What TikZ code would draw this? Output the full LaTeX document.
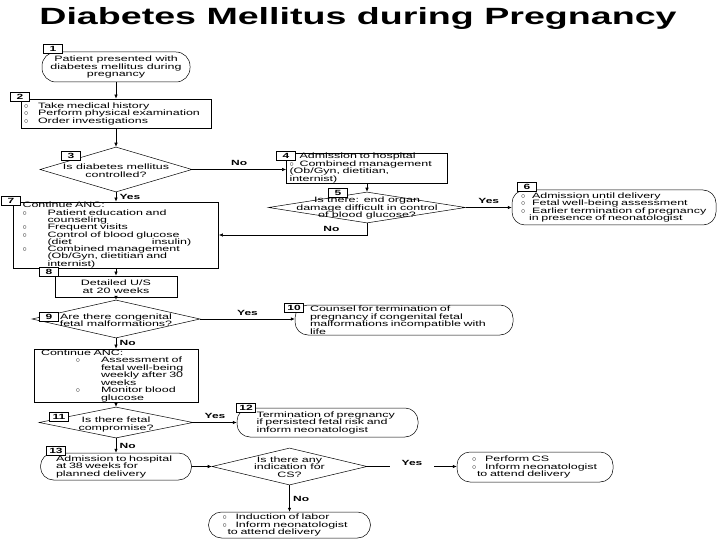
\documentclass[tikz,border=0pt]{standalone}
\usepackage{fontspec}
\setmainfont{Liberation Sans}[FakeStretch=1.6]
\usetikzlibrary{arrows.meta,shapes.geometric}
\newcommand{\bul}[1][12pt]{\makebox[#1][l]{$\circ$}}

\begin{document}
\begin{tikzpicture}[x=1pt, y=-1pt,
  every node/.style={font=\fontsize{7.8}{7.5}\selectfont},
  box/.style={draw, line width=0.8pt, inner xsep=3pt, inner ysep=0pt, align=left},
  term/.style={draw, line width=0.5pt, rounded corners=13pt, inner sep=0pt, align=left},
  decision/.style={diamond, draw, line width=0.5pt, inner sep=0pt},
  num/.style={draw, line width=0.9pt, fill=white, font=\fontsize{7.5}{8}\selectfont\bfseries,
              minimum width=19pt, minimum height=9pt, inner sep=0pt},
  yn/.style={font=\fontsize{7.5}{8}\selectfont\bfseries},
  arrow/.style={-{Latex[length=4pt,width=3.5pt]}, line width=0.6pt}
]
\useasboundingbox (0,0) rectangle (720,540);

\node[font=\fontsize{23.5}{26}\selectfont\bfseries] (title) at (358,18) {Diabetes Mellitus during Pregnancy};

\node[term, align=center, rounded corners=14pt, minimum width=148pt, minimum height=30pt] (present) at (116,67)
  {Patient presented with\\diabetes mellitus during\\pregnancy};
\node[box, text width=184pt, minimum height=29pt] (history) at (116,113.5)
  {\bul[14pt]Take medical history\\\bul[14pt]Perform physical examination\\\bul[14pt]Order investigations};
\node[decision, minimum width=152pt, minimum height=45pt] (controlled) at (116,169.5) {};
\node[align=center] (controlledtxt) at (116,170.5) {Is diabetes mellitus\\controlled?};

\node[box, text width=155pt, minimum height=30pt] (admit) at (367,168)
  {\bul[10pt]Admission to hospital\\\bul[10pt]Combined management\\(Ob/Gyn, dietitian,\\internist)};
\node[decision, minimum width=197pt, minimum height=31pt] (organ) at (367,207.5) {};
\node[align=center] (organtxt) at (367,208) {Is there: end organ\\damage difficult in control\\of blood glucose?};
\node[term, text width=186pt, minimum width=204pt, minimum height=35pt] (untildel) at (614,207.5)
  {\bul[11pt]Admission until delivery\\\bul[11pt]Fetal well-being assessment\\\bul[11pt]Earlier termination of pregnancy\\\hspace*{8pt}in presence of neonatologist};

\node[box, inner xsep=9pt, text width=187pt, minimum height=66pt, font=\fontsize{7.8}{7.3}\selectfont] (anc) at (116,235)
  {Continue ANC:\\
   \bul[25pt]Patient education and\\\hspace*{25pt}counseling\\
   \bul[25pt]Frequent visits\\
   \bul[25pt]Control of blood glucose\\\hspace*{25pt}(diet\hspace{80pt}insulin)\\
   \bul[25pt]Combined management\\\hspace*{25pt}(Ob/Gyn, dietitian and\\\hspace*{25pt}internist)};
\node[box, align=center, minimum width=122pt, minimum height=21pt] (us) at (116,286.5) {Detailed U/S\\at 20 weeks};

\node[decision, minimum width=168pt, minimum height=38pt] (malf) at (116,319) {};
\node[align=center] (malftxt) at (116,320) {Are there congenital\\fetal malformations?};
\node[term, text width=188pt, minimum width=218pt, minimum height=30pt] (counsel) at (404,320)
  {Counsel for termination of\\pregnancy if congenital fetal\\malformations incompatible with\\life};

\node[box, inner xsep=7pt, text width=150pt, minimum height=53pt] (anclate) at (116,375.5)
  {Continue ANC:\\
   \hspace*{35pt}\bul[25pt]Assessment of\\\hspace*{60pt}fetal well-being\\\hspace*{60pt}weekly after 30\\\hspace*{60pt}weeks\\
   \hspace*{35pt}\bul[25pt]Monitor blood\\\hspace*{60pt}glucose};

\node[decision, minimum width=154pt, minimum height=31pt] (comp) at (116,422.5) {};
\node[align=center] (comptxt) at (116,424.5) {Is there fetal\\compromise?};
\node[term, text width=142pt, minimum width=181pt, minimum height=29pt] (termin) at (327.5,422.5)
  {Termination of pregnancy\\if persisted fetal risk and\\inform neonatologist};

\node[term, text width=120pt, minimum width=151pt, minimum height=27pt] (adm38) at (116,466.5)
  {Admission to hospital\\at 38 weeks for\\planned delivery};
\node[decision, minimum width=155pt, minimum height=37pt] (csq) at (289.5,466.5) {};
\node[align=center] (csqtxt) at (289.5,467) {Is there any\\indication for\\CS?};
\node[term, text width=126pt, minimum width=156pt, minimum height=30pt] (cs) at (535,467)
  {\bul[13pt]Perform CS\\\bul[13pt]Inform neonatologist\\\hspace*{5pt}to attend delivery};
\node[term, text width=134pt, minimum width=162pt, minimum height=26pt] (induct) at (289.5,525)
  {\bul[13pt]Induction of labor\\\bul[13pt]Inform neonatologist\\\hspace*{5pt}to attend delivery};

\draw[arrow] (present) -- (history);
\draw[arrow] (history) -- (controlled);
\draw[arrow] (controlled.east) -- (controlled.east -| admit.west) node[yn, midway, above] {No};
\draw[arrow] (admit) -- (organ);
\draw[arrow] (organ.east) -- (organ.east -| untildel.west) node[yn, midway, above] {Yes};
\draw[arrow] (organ.south) |- (anc.east) node[yn, pos=.62, above] {No};
\draw[arrow] (controlled) -- (anc) node[yn, midway, right] {Yes};
\draw[arrow] (anc) -- (us);
\draw[arrow] (us) -- (malf);
\draw[arrow] (malf.east) -- (malf.east -| counsel.west) node[yn, midway, above] {Yes};
\draw[arrow] (malf) -- (anclate) node[yn, midway, right] {No};
\draw[arrow] (anclate) -- (comp);
\draw[arrow] (comp) -- (termin) node[yn, midway, above] {Yes};
\draw[arrow] (comp) -- (adm38) node[yn, midway, right] {No};
\draw[arrow] (adm38) -- (csq);
\draw[arrow] (csq.east) -- (csq.east -| cs.west) node[yn, midway, fill=white, inner xsep=12pt, inner ysep=3pt, yshift=4pt] {Yes};
\draw[arrow] (csq) -- (induct) node[yn, midway, right] {No};

\node[num] (n1) at (53,49) {1};
\node[num] (n2) at (20,97) {2};
\node[num] (n3) at (71,156) {3};
\node[num] (n4) at (286,156) {4};
\node[num] (n5) at (338,193) {5};
\node[num] (n6) at (527,187) {6};
\node[num] (n7) at (11,201) {7};
\node[num] (n8) at (49,272) {8};
\node[num] (n9) at (49,317) {9};
\node[num] (n10) at (294,308) {10};
\node[num] (n11) at (59,417) {11};
\node[num] (n12) at (246,408) {12};
\node[num] (n13) at (56,451) {13};
\end{tikzpicture}
\end{document}
